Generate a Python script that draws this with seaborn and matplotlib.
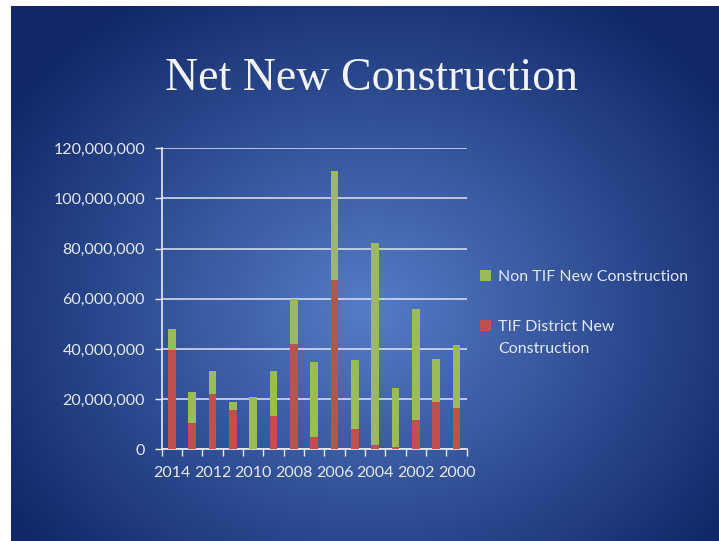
import numpy as np
import pandas as pd
import matplotlib
matplotlib.use("Agg")
import matplotlib.pyplot as plt
from matplotlib.patches import Patch
import seaborn as sns

# Net new construction by year, split into TIF district and non-TIF parts
years = ["2014", "2013", "2012", "2011", "2010", "2009", "2008", "2007",
         "2006", "2005", "2004", "2003", "2002", "2001", "2000"]
tif_district = [39.6, 10.6, 21.9, 15.7, 0.0, 13.4, 41.9, 5.0,
                67.5, 8.2, 1.7, 0.8, 11.7, 19.0, 16.3]          # millions
non_tif = [8.4, 12.4, 9.2, 3.0, 21.0, 17.8, 18.0, 29.7,
           43.3, 27.4, 80.4, 23.8, 44.1, 16.9, 25.3]             # millions
y_ticks = [0, 20e6, 40e6, 60e6, 80e6, 100e6, 120e6]
series_names = ["Non TIF New Construction", "TIF District New", "Construction"]

GREEN = "#9bbb59"
RED = "#c0504d"
TEXT = "#e4e9f3"

df = pd.DataFrame({
    "year": years,
    "tif": np.array(tif_district) * 1e6,
    "total": (np.array(tif_district) + np.array(non_tif)) * 1e6,
})

sns.set_theme(style="white")
plt.rcParams["font.family"] = ["Lato", "DejaVu Sans"]

W, H = 719, 541
fig = plt.figure(figsize=(W / 100, H / 100), dpi=100)
fig.patch.set_facecolor("white")

# slide background: radial blue gradient
bg = fig.add_axes([11 / W, 0, (W - 11) / W, (H - 6) / H], zorder=0)
gx, gy = np.meshgrid(np.linspace(11, W, 400), np.linspace(6, H, 300))
r = np.sqrt(((gx - 370) / 430) ** 2 + ((gy - 310) / 370) ** 2)
r = np.clip(r, 0, 1)
inner = np.array([86, 124, 200]) / 255
outer = np.array([17, 40, 104]) / 255
img = inner[None, None, :] * (1 - r[..., None]) + outer[None, None, :] * r[..., None]
bg.imshow(img, aspect="auto", extent=[0, 1, 0, 1], origin="upper")
bg.set_axis_off()

left, right, top, bottom = 161.7, 466.7, 148.3, 449.3
ax = fig.add_axes([left / W, 1 - bottom / H, (right - left) / W, (bottom - top) / H], zorder=1)
ax.set_facecolor("none")

sns.barplot(data=df, x="year", y="total", color=GREEN, saturation=1,
            width=0.38, linewidth=0, edgecolor="none", ax=ax, zorder=3)
sns.barplot(data=df, x="year", y="tif", color=RED, saturation=1,
            width=0.38, linewidth=0, edgecolor="none", ax=ax, zorder=4)

ax.set_xlim(-0.5, len(years) - 0.5)
ax.set_ylim(0, 120e6)
ax.set_yticks(y_ticks)
ax.set_yticklabels([f"{int(v):,}" for v in y_ticks])
ax.set_xticks(range(0, len(years), 2))
ax.set_xticklabels(years[::2])
ax.set_xticks(np.arange(-0.5, len(years), 1), minor=True)
ax.set_xlabel("")
ax.set_ylabel("")

ax.grid(axis="y", color="#dfe5f2", linewidth=1.3, alpha=0.85, zorder=1)
ax.grid(axis="x", visible=False)
for s in ["top", "right"]:
    ax.spines[s].set_visible(False)
for s in ["left", "bottom"]:
    ax.spines[s].set_color("#e8edf6")
    ax.spines[s].set_linewidth(1.2)

ax.tick_params(axis="y", which="major", length=5, width=1, color="#e8edf6",
               direction="out", labelsize=11.5, labelcolor=TEXT, pad=7, left=True)
ax.tick_params(axis="x", which="major", length=0, labelsize=11.5,
               labelcolor=TEXT, pad=12)
ax.tick_params(axis="x", which="minor", length=5, width=1, color="#e8edf6",
               direction="out", bottom=True)

# legend: the second label wraps, with its swatch beside the first line
handles = [Patch(facecolor=GREEN, edgecolor="none"),
           Patch(facecolor=RED, edgecolor="none")]
leg = fig.legend(handles, series_names[:2], loc="upper left",
                 bbox_to_anchor=(466 / W, 1 - 256 / H), frameon=False,
                 fontsize=11.5, labelcolor=TEXT, handlelength=0.65, handleheight=0.65,
                 handletextpad=0.45, labelspacing=2.24)
fig.canvas.draw()
bb = leg.get_texts()[1].get_window_extent(fig.canvas.get_renderer())
fig.text(bb.x0 / W, (bb.y0 - 22) / H, series_names[2], ha="left", va="bottom",
         color=TEXT, fontsize=11.5)

fig.text(372 / W, 1 - 79 / H, "Net New Construction", ha="center", va="center",
         color="#f2f4f8", fontsize=33, family=["Liberation Serif", "DejaVu Serif"])

fig.savefig("out.png", dpi=100, facecolor=fig.get_facecolor())
